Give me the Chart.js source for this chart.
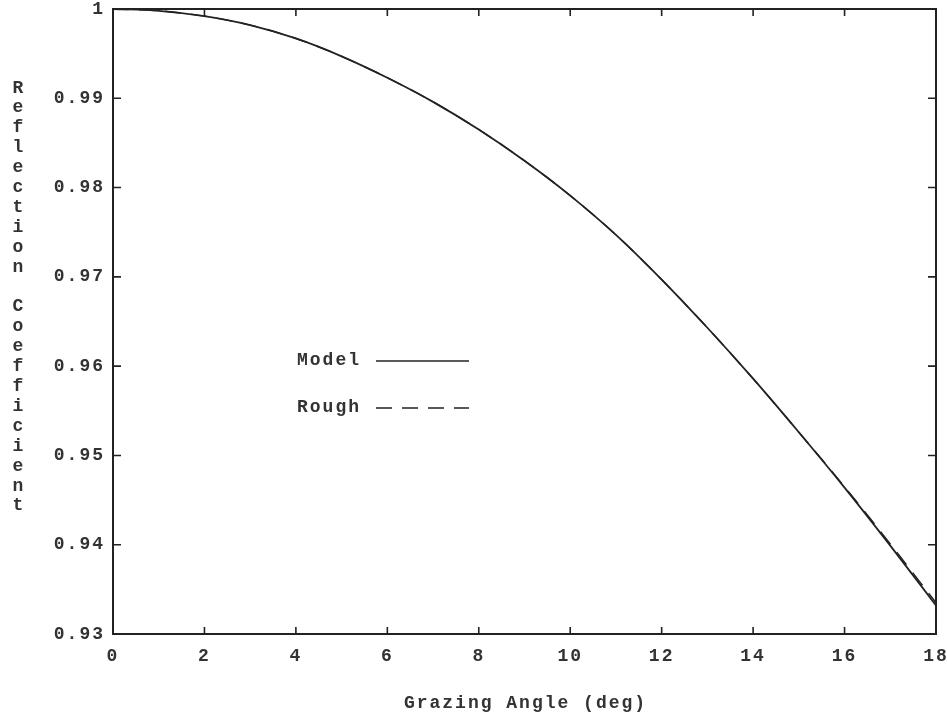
<!DOCTYPE html>
<html>
<head>
<meta charset="utf-8">
<script src="https://cdn.jsdelivr.net/npm/chart.js@4/dist/chart.umd.min.js"></script>
<style>
  html, body { margin: 0; padding: 0; background: #fff; }
  #wrap { width: 947px; height: 721px; position: relative; }
</style>
</head>
<body>
<div id="wrap"><canvas id="c" width="947" height="721"></canvas></div>
<script>
// ---- data ----
const angles = [0, 1, 2, 3, 4, 5, 6, 7, 8, 9, 10, 11, 12, 13, 14, 15, 16, 17, 18];
const modelValues = [1.0, 0.9998, 0.9992, 0.9982, 0.9967, 0.9947, 0.9923, 0.9896, 0.9865, 0.9830, 0.9791, 0.9747, 0.9697, 0.9643, 0.9586, 0.9526, 0.9464, 0.9399, 0.9332];
const roughValues = [1.0, 0.9998, 0.9992, 0.9982, 0.9967, 0.9947, 0.9923, 0.9896, 0.9865, 0.9830, 0.9791, 0.9747, 0.9697, 0.9643, 0.9586, 0.9526, 0.9465, 0.9401, 0.9335];
const xTickValues = [0, 2, 4, 6, 8, 10, 12, 14, 16, 18];
const yTickValues = [0.93, 0.94, 0.95, 0.96, 0.97, 0.98, 0.99, 1.0];
const yTickLabels = ['0.93', '0.94', '0.95', '0.96', '0.97', '0.98', '0.99', '1'];
const seriesNames = ['Model', 'Rough'];
const xTitle = 'Grazing Angle (deg)';
const yTitle = 'Reflection Coefficient';

const FONT = "'Liberation Mono', 'DejaVu Sans Mono', monospace";
const INK = '#222';
const TEXT = '#333';

function pts(xs, ys) { return xs.map((x, i) => ({ x: x, y: ys[i] })); }

const framePlugin = {
  id: 'frame',
  beforeDraw(chart) {
    chart.ctx.letterSpacing = '2px';
  },
  afterDraw(chart) {
    const ctx = chart.ctx;
    const a = chart.chartArea;
    const xs = chart.scales.x, ys = chart.scales.y;
    ctx.save();
    ctx.letterSpacing = '2px';
    ctx.strokeStyle = INK;
    ctx.lineWidth = 2;
    ctx.setLineDash([]);
    ctx.strokeRect(a.left, a.top, a.right - a.left, a.bottom - a.top);
    ctx.lineWidth = 1.6;
    ctx.beginPath();
    xTickValues.forEach(v => {
      const px = xs.getPixelForValue(v);
      ctx.moveTo(px, a.bottom); ctx.lineTo(px, a.bottom - 7);
      ctx.moveTo(px, a.top); ctx.lineTo(px, a.top + 7);
    });
    yTickValues.forEach(v => {
      const py = ys.getPixelForValue(v);
      ctx.moveTo(a.left, py); ctx.lineTo(a.left + 8, py);
      ctx.moveTo(a.right, py); ctx.lineTo(a.right - 8, py);
    });
    ctx.stroke();

    // axis titles
    ctx.fillStyle = TEXT;
    ctx.font = "bold 18px " + FONT;
    ctx.textAlign = 'center';
    ctx.textBaseline = 'middle';
    ctx.fillText(xTitle, (a.left + a.right) / 2 + 1, 703);
    const chars = yTitle.split('');
    chars.forEach((ch, i) => {
      if (ch !== ' ') ctx.fillText(ch, 19, 88 + i * 19.9);
    });

    // in-plot legend
    const ds = chart.data.datasets;
    const legendY = [360, 407];
    ds.forEach((d, i) => {
      const y = legendY[i];
      ctx.textAlign = 'left';
      ctx.fillText(d.label, 297, y);
      ctx.strokeStyle = d.borderColor;
      ctx.lineWidth = 1.6;
      ctx.setLineDash(d.borderDash || []);
      ctx.beginPath();
      ctx.moveTo(376, y + 1);
      ctx.lineTo(469, y + 1);
      ctx.stroke();
    });
    ctx.restore();
  }
};

new Chart(document.getElementById('c'), {
  type: 'line',
  data: {
    datasets: [
      {
        label: seriesNames[0],
        data: pts(angles, modelValues),
        borderColor: INK,
        borderWidth: 1.8,
        pointRadius: 0,
        cubicInterpolationMode: 'monotone',
        fill: false
      },
      {
        label: seriesNames[1],
        data: pts(angles, roughValues),
        borderColor: INK,
        borderWidth: 1.4,
        borderDash: [16, 10],
        pointRadius: 0,
        cubicInterpolationMode: 'monotone',
        fill: false
      }
    ]
  },
  options: {
    responsive: false,
    animation: false,
    devicePixelRatio: 1,
    layout: { padding: { top: 9, right: 11, left: 0, bottom: 0 } },
    plugins: { legend: { display: false }, tooltip: { enabled: false } },
    scales: {
      x: {
        type: 'linear',
        min: 0, max: 18,
        afterBuildTicks(scale) { scale.ticks = xTickValues.map(v => ({ value: v })); },
        ticks: {
          color: TEXT,
          font: { family: FONT, size: 18, weight: 'bold' },
          padding: 12,
          maxRotation: 0,
          callback: (v) => String(v)
        },
        grid: { display: false, drawTicks: false },
        border: { display: false },
        afterFit(scale) {
          scale.height = 87;
          scale.paddingLeft = 0; scale.paddingRight = 0;
        }
      },
      y: {
        type: 'linear',
        min: 0.93, max: 1.0,
        afterBuildTicks(scale) { scale.ticks = yTickValues.map(v => ({ value: v })); },
        ticks: {
          color: TEXT,
          font: { family: FONT, size: 18, weight: 'bold' },
          padding: 8,
          callback: (v) => {
            const i = yTickValues.findIndex(t => Math.abs(t - v) < 1e-6);
            return i >= 0 ? yTickLabels[i] : '';
          }
        },
        grid: { display: false, drawTicks: false },
        border: { display: false },
        afterFit(scale) {
          scale.width = 113;
          scale.paddingTop = 0; scale.paddingBottom = 0;
        }
      }
    }
  },
  plugins: [framePlugin]
});
</script>
</body>
</html>
